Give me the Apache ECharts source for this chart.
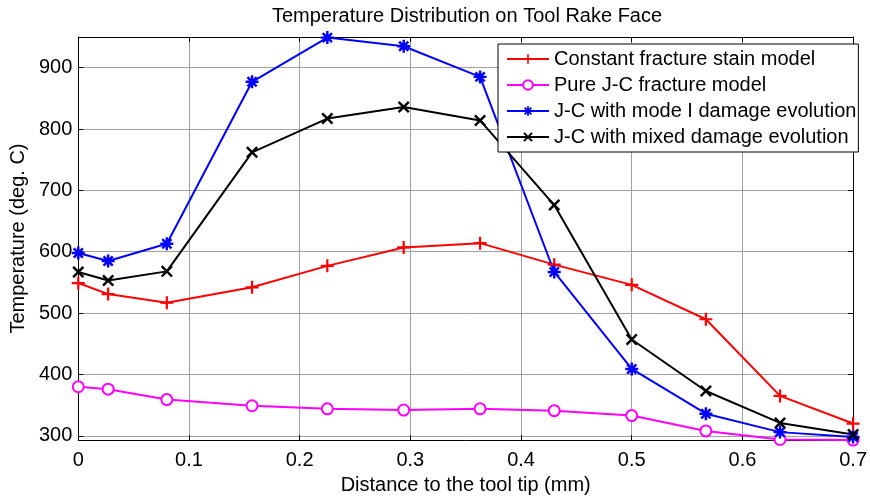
<!DOCTYPE html>
<html>
<head>
<meta charset="utf-8">
<script src="https://cdn.jsdelivr.net/npm/echarts@6/dist/echarts.min.js"></script>
<style>
  html, body { margin: 0; padding: 0; background: #fff; }
  #chart { width: 870px; height: 500px; }
</style>
</head>
<body>
<div id="chart"></div>
<script>
// ---- data ----
const xValues = [0, 0.027, 0.08, 0.157, 0.225, 0.294, 0.363, 0.43, 0.5, 0.567, 0.634, 0.7];
const constantFracture = [549, 531, 517, 542, 577, 607, 614, 579, 546, 490, 365, 320];
const pureJC = [380, 376, 359, 349, 344, 342, 344, 341, 333, 308, 294, 293];
const modeIDamage = [598, 585, 613, 877, 949, 935, 885, 567, 409, 336, 306, 298];
const mixedDamage = [567, 553, 568, 762, 817, 836, 814, 676, 457, 373, 321, 302];
const seriesNames = [
  'Constant fracture stain model',
  'Pure J-C fracture model',
  'J-C with mode I damage evolution',
  'J-C with mixed damage evolution'
];
const xTicks = [0, 0.1, 0.2, 0.3, 0.4, 0.5, 0.6, 0.7];
const yTicks = [300, 400, 500, 600, 700, 800, 900];
const titleText = 'Temperature Distribution on Tool Rake Face';
const xLabel = 'Distance to the tool tip (mm)';
const yLabel = 'Temperature (deg. C)';

// ---- marker shapes ----
function barsPath(angles, len, half) {
  let d = '';
  angles.forEach(a => {
    const r = a * Math.PI / 180;
    const ux = Math.cos(r), uy = Math.sin(r);
    const px = -uy * half, py = ux * half;
    const pts = [
      [-ux * len + px, -uy * len + py],
      [ux * len + px, uy * len + py],
      [ux * len - px, uy * len - py],
      [-ux * len - px, -uy * len - py]
    ];
    d += 'M' + pts.map(p => p[0].toFixed(3) + ',' + p[1].toFixed(3)).join('L') + 'Z';
  });
  return 'path://' + d;
}
const plusSym = barsPath([0, 90], 10, 1.7);
const xSym = barsPath([45, 135], 10, 1.7);
const starSym = barsPath([0, 45, 90, 135], 10, 1.9);

function pairs(ys) { return xValues.map((x, i) => [x, ys[i]]); }

const font = 'Arial, "Liberation Sans", sans-serif';
const chart = echarts.init(document.getElementById('chart'));

const commonAxisLine = { show: true, onZero: false, lineStyle: { color: '#000', width: 1 } };
const tickStyle = { show: true, inside: true, length: 5, lineStyle: { color: '#000', width: 1 } };
const gridLine = { show: true, lineStyle: { color: '#a0a0a0', width: 1, type: 'solid' } };

function mkSeries(name, ys, color, symbol, size, bw) {
  return {
    name: name,
    type: 'line',
    data: pairs(ys),
    symbol: symbol,
    symbolSize: size,
    showAllSymbol: true,
    color: color,
    lineStyle: { color: color, width: 2, type: 'solid' },
    itemStyle: { color: color, borderColor: color, borderWidth: bw },
    emphasis: { disabled: true },
    animation: false,
    z: 3
  };
}

chart.setOption({
  animation: false,
  backgroundColor: '#fff',
  textStyle: { fontFamily: font },
  title: {
    text: titleText,
    left: 467,
    top: 6,
    padding: 0,
    textAlign: 'center',
    textStyle: { fontFamily: font, fontSize: 20, fontWeight: 'normal', color: '#000' }
  },
  grid: { left: 76, right: 11, top: 37, bottom: 51, containLabel: false },
  xAxis: [{
    type: 'value', min: 0, max: 0.7, interval: 0.1, position: 'bottom',
    name: xLabel, nameLocation: 'middle', nameGap: 33,
    nameTextStyle: { fontFamily: font, fontSize: 20, color: '#000' },
    axisLine: commonAxisLine, axisTick: tickStyle,
    axisLabel: { show: true, color: '#000', fontSize: 20, fontFamily: font, margin: 10,
      customValues: xTicks, formatter: v => String(v) },
    splitLine: gridLine
  }, {
    type: 'value', min: 0, max: 0.7, interval: 0.1, position: 'top',
    axisLine: commonAxisLine, axisTick: tickStyle,
    axisLabel: { show: false }, splitLine: { show: false }
  }],
  yAxis: [{
    type: 'value', min: 293, max: 950, position: 'left',
    name: yLabel, nameLocation: 'middle', nameGap: 40,
    nameTextStyle: { fontFamily: font, fontSize: 20, color: '#000' },
    axisLine: commonAxisLine,
    axisTick: Object.assign({}, tickStyle, { customValues: yTicks }),
    axisLabel: { show: true, color: '#000', fontSize: 20, fontFamily: font, margin: 6,
      customValues: yTicks },
    splitLine: gridLine
  }, {
    type: 'value', min: 293, max: 950, position: 'right',
    axisLine: commonAxisLine,
    axisTick: Object.assign({}, tickStyle, { customValues: yTicks }),
    axisLabel: { show: false }, splitLine: { show: false }
  }],
  legend: {
    orient: 'vertical',
    left: 498, top: 44,
    padding: [5, 2, 5, 8],
    itemGap: 6,
    itemWidth: 42, itemHeight: 12,
    backgroundColor: '#fff',
    borderColor: '#000', borderWidth: 1,
    textStyle: { fontFamily: font, fontSize: 20, color: '#000' },
    data: seriesNames,
    selectedMode: false,
    z: 10
  },
  series: [
    mkSeries(seriesNames[0], constantFracture, '#ff0000', plusSym, 13, 0),
    mkSeries(seriesNames[1], pureJC, '#ff00ff', 'emptyCircle', 11, 2),
    mkSeries(seriesNames[2], modeIDamage, '#0000ff', starSym, 13, 0),
    mkSeries(seriesNames[3], mixedDamage, '#000000', xSym, 12, 0)
  ]
});
</script>
</body>
</html>
